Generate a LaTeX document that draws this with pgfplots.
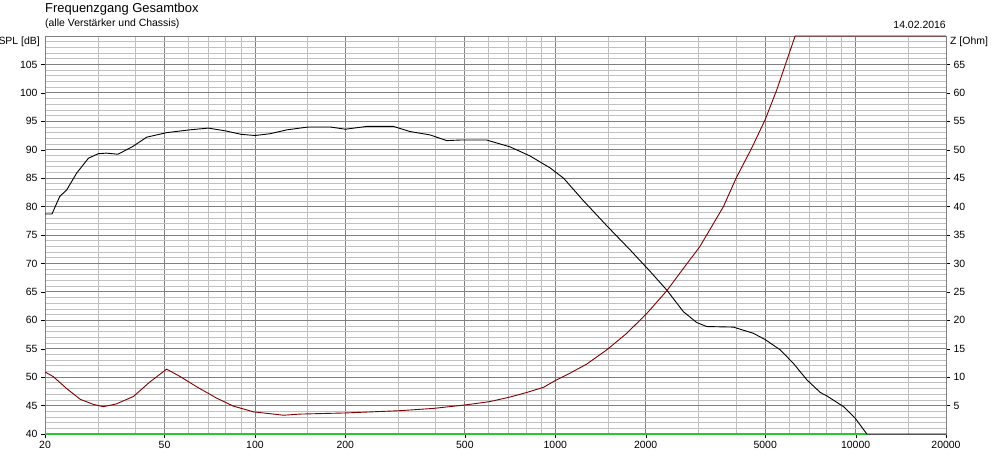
\documentclass[border=0pt]{standalone}
\usepackage{fontspec}
\setmainfont{Liberation Sans}
\usepackage{pgfplots}
\pgfplotsset{compat=1.18}
\definecolor{gdark}{RGB}{128,128,128}
\definecolor{glight}{RGB}{192,192,192}
\definecolor{zred}{RGB}{128,0,0}
\definecolor{basegreen}{RGB}{40,200,40}

\begin{document}
\begin{tikzpicture}[font=\fontsize{10.5}{12}\selectfont]
% SPL axis (left)
\begin{axis}[name=ax,
    width=901bp, height=398bp, scale only axis,
    xmode=log, xmin=20, xmax=20000,
    ymin=40, ymax=110,
    clip=false,
    tick align=outside, major tick length=4bp, minor tick length=0pt,
    axis line style={gdark}, tick style={black},
    xtick={20,50,100,200,500,1000,2000,5000,10000,20000},
    xticklabels={20,50,100,200,500,1000,2000,5000,10000,20000},
    minor xtick={30,40,60,70,80,90,150,300,400,600,700,800,900,1500,3000,4000,6000,7000,8000,9000,15000},
    ytick={40,45,50,55,60,65,70,75,80,85,90,95,100,105},
    yticklabels={40,45,50,55,60,65,70,75,80,85,90,95,100,105},
    minor ytick={41,...,109},
    grid=both,
    major grid style={gdark, line width=0.75bp},
    minor grid style={glight, line width=0.75bp},
    xtick pos=bottom, ytick pos=left,
]
\end{axis}
% Impedance axis (right), also carries the curves on top of the frame
\begin{axis}[
    width=901bp, height=398bp, scale only axis,
    xmode=log, xmin=20, xmax=20000,
    ymin=0, ymax=70,
    clip=false,
    tick align=outside, major tick length=4bp, minor tick length=0pt,
    axis line style={gdark}, tick style={black},
    axis x line=none, axis y line*=right,
    ytick={5,10,15,20,25,30,35,40,45,50,55,60,65},
    yticklabels={5,10,15,20,25,30,35,40,45,50,55,60,65},
]
% green baseline (Z = 0 / SPL = 40)
\addplot[basegreen, line width=1.2bp] coordinates {(20,0) (10900,0)};
% SPL, shifted by 40 dB onto the Ohm scale (both scales share 1 unit per step)
\addplot[black, line width=0.9bp] table[x=f, y expr=\thisrow{spl}-40] {
f spl
20 78.7
21.1 78.7
22.4 81.8
23.6 82.9
25.5 85.9
27.9 88.5
30.1 89.3
32 89.4
35 89.2
39.3 90.6
43.6 92.2
50.8 93.0
60.8 93.5
70 93.8
80 93.3
90 92.7
100 92.5
112 92.8
128 93.5
151 94.0
178 94.0
200 93.6
236 94.1
289 94.1
328 93.2
383 92.6
435 91.6
482 91.7
591 91.7
707 90.5
824 88.9
961 86.8
1065 85.0
1242 81.0
1486 76.6
1773 72.4
2069 68.6
2352 65.3
2672 61.5
2958 59.6
3194 58.9
3920 58.8
4570 57.7
5000 56.6
5610 54.8
6210 52.4
6890 49.5
7630 47.3
8020 46.7
9120 44.8
9960 42.8
10900 40.0
20000 40.0
};
\addplot[zred, line width=0.9bp] coordinates {
 (20,10.9) (21.3,10.1) (23.6,8.0) (26.2,6.1) (29,5.2) (31.3,4.8)
 (34.6,5.3) (39.4,6.6) (44.8,9.2) (50.8,11.4) (56.4,10.1) (64,8.3)
 (74.6,6.3) (84.8,4.9) (98.8,3.9) (124.5,3.3) (141,3.5) (200,3.7)
 (304,4.1) (393,4.5) (500,5.1) (606,5.7) (707,6.5) (803,7.3)
 (913,8.2) (1000,9.4) (1120,10.7) (1273,12.3) (1484,14.8) (1729,17.7)
 (2017,21.2) (2352,25.2) (2600,28.3) (3033,33.0) (3631,40.0) (4000,45.0)
 (4510,50.3) (5000,55.3) (5470,60.6) (6290,70) (20000,70)
};
\end{axis}
\node[anchor=west, inner sep=0, font=\fontsize{13}{15}\selectfont] at ([yshift=27bp]ax.north west) {Frequenzgang Gesamtbox};
\node[anchor=west, inner sep=0] at ([yshift=12bp]ax.north west) {(alle Verstärker und Chassis)};
\node[anchor=east, inner sep=0] at ([yshift=11bp]ax.north east) {14.02.2016};
\node[anchor=east, inner sep=0] at ([shift={(-5bp,-6bp)}]ax.north west) {SPL [dB]};
\node[anchor=west, inner sep=0] at ([shift={(4bp,-6bp)}]ax.north east) {Z [Ohm]};
\pgfresetboundingbox
\path ([shift={(-45bp,-24bp)}]ax.south west) rectangle ([shift={(50bp,36bp)}]ax.north east);
\end{tikzpicture}
\end{document}
